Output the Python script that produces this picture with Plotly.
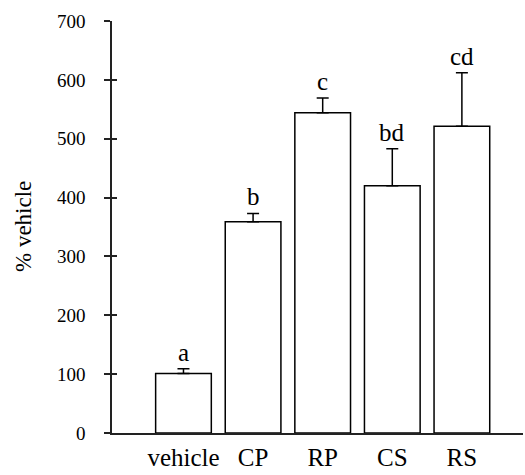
import plotly.graph_objects as go

categories = ["vehicle", "CP", "RP", "CS", "RS"]
values = [101, 359, 544, 420, 521]
errors = [8, 14, 25, 63, 91]
letters = ["a", "b", "c", "bd", "cd"]
y_ticks = [0, 100, 200, 300, 400, 500, 600, 700]

FONT = "Liberation Serif"
xpos = list(range(len(categories)))

fig = go.Figure()
fig.add_trace(go.Bar(
    x=xpos, y=values, width=0.8,
    marker=dict(color="white", line=dict(color="black", width=1.5)),
    error_y=dict(type="data", symmetric=False, array=errors,
                 arrayminus=[0] * len(errors), color="black",
                 thickness=1.5, width=6),
    showlegend=False,
))
# invisible trace on second y axis to enable inner ticks
fig.add_trace(go.Scatter(x=[xpos[0]], y=[0], yaxis="y2", mode="markers",
                         marker=dict(opacity=0), showlegend=False,
                         hoverinfo="skip"))

for i, (v, e, t) in enumerate(zip(values, errors, letters)):
    fig.add_annotation(x=xpos[i], y=v + e, text=t, showarrow=False,
                       yanchor="bottom", yshift=1,
                       font=dict(family=FONT, size=25, color="black"))

fig.add_annotation(xref="paper", yref="paper", x=-0.2165, y=0.5,
                   text="% vehicle", textangle=-90, showarrow=False,
                   xanchor="center", yanchor="middle",
                   font=dict(family=FONT, size=23, color="black"))

fig.update_layout(
    width=525, height=475,
    margin=dict(l=112, r=2, t=21, b=42),
    plot_bgcolor="white", paper_bgcolor="white",
    font=dict(family=FONT, size=19, color="black"),
    xaxis=dict(range=[-1.027, 4.878], tickvals=xpos, ticktext=categories,
               showline=True, linecolor="#222", linewidth=1.5,
               ticks="", showgrid=False, zeroline=False,
               tickfont=dict(family=FONT, size=25, color="black"),
               ticklabelstandoff=1, fixedrange=True),
    yaxis=dict(range=[0, 700], tickvals=y_ticks, showline=True,
               linecolor="#222", linewidth=1.5, ticks="outside",
               ticklen=6, tickwidth=1.5, tickcolor="#222",
               tickfont=dict(family=FONT, size=19, color="black"),
               showgrid=False, zeroline=False, ticklabelstandoff=15),
    yaxis2=dict(range=[0, 700], tickvals=y_ticks[1:], overlaying="y",
                side="left", ticks="inside", ticklen=5, tickwidth=1.5,
                tickcolor="#222", showticklabels=False, showgrid=False,
                zeroline=False, showline=False),
)

fig.write_html("out.html")
